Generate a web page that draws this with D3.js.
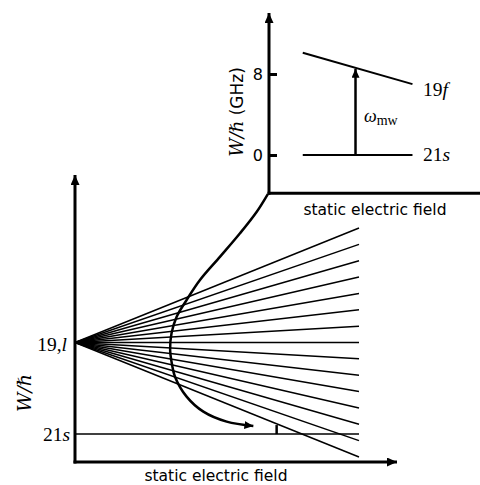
<!DOCTYPE html>
<html><head><meta charset="utf-8">
<script src="https://cdn.jsdelivr.net/npm/d3@7/dist/d3.min.js"></script>
<style>
body{margin:0;background:#fff;}
svg{display:block;}
.sans{font-family:"DejaVu Sans",sans-serif;}
.serif{font-family:"Liberation Serif","DejaVu Serif",serif;}
.dserif{font-family:"DejaVu Serif",serif;}
</style></head>
<body>
<script>
// ---- Data ----
// Main panel: Stark fan of 19,l manifold (energy at field = 1, in level-spacing units)
const fanSlopes = [7, 6, 5, 4, 3, 2, 1, 0, -1, -2, -3, -4, -5, -6, -7];
const fanFieldMax = 1.0;
const level19l = 0;          // 19,l zero-field energy
const level21s = -5.6;       // 21s energy
const mainTickValues = [level19l, level21s];
// sweep curve (field, energy)
const curveField  = [0.679, 0.640, 0.581, 0.511, 0.440, 0.393, 0.358, 0.340, 0.335, 0.342, 0.352, 0.393, 0.452, 0.534, 0.628];
const curveEnergy = [9.08, 8.00, 6.68, 5.25, 3.82, 2.60, 1.58, 0.58, -0.46, -1.38, -2.09, -3.31, -4.23, -4.84, -5.11];
const markerField = 0.71, markerTop = -5.05;

// Inset: levels in GHz
const insetTickValues = [8, 0];
const inset19fX = [1.6, 6.8], inset19fW = [10.1, 7.0];
const inset21sX = [1.6, 6.8], inset21sW = [0, 0];
const mwX = 4.1;

const W = 480, H = 485;
const svg = d3.select("body").append("svg").attr("width", W).attr("height", H);

const defs = svg.append("defs");
function arrowMarker(id, w, h) {
  defs.append("marker").attr("id", id)
    .attr("viewBox", `0 0 ${w} ${h}`).attr("refX", w).attr("refY", h/2)
    .attr("markerWidth", w).attr("markerHeight", h).attr("markerUnits", "userSpaceOnUse")
    .attr("orient", "auto")
    .append("path").attr("d", `M0,0 L${w},${h/2} L0,${h} Z`).attr("fill", "#000");
}
arrowMarker("axArrow", 10, 9);
arrowMarker("smArrow", 9, 8);

// ---- Main panel scales ----
const x = d3.scaleLinear().domain([0, 1]).range([75, 359]);
const y = d3.scaleLinear().domain([0, 1]).range([342.5, 326.15]);
const xAxisEnd = x.invert(397), yAxisTop = y.invert(175), yAxisBottom = y.invert(462);

// fan lines
svg.append("g").selectAll("line").data(fanSlopes).join("line")
  .attr("x1", x(0)).attr("y1", y(level19l))
  .attr("x2", x(fanFieldMax)).attr("y2", d => y(level19l + d * fanFieldMax))
  .attr("stroke", "#000").attr("stroke-width", 1.5);

// 21s line
svg.append("line").attr("x1", x(0)).attr("x2", x(fanFieldMax))
  .attr("y1", y(level21s)).attr("y2", y(level21s))
  .attr("stroke", "#000").attr("stroke-width", 1.5);

// small marker tick
svg.append("line").attr("x1", x(markerField)).attr("x2", x(markerField))
  .attr("y1", y(level21s)).attr("y2", y(markerTop))
  .attr("stroke", "#000").attr("stroke-width", 2.5);

// y axis
const yAx = svg.append("g").attr("transform", `translate(${x(0)},0)`)
  .call(d3.axisLeft(y).tickValues(mainTickValues).tickSize(0).tickPadding(8).tickFormat(""));
yAx.select(".domain").remove();
svg.append("line").attr("x1", x(0)).attr("x2", x(0))
  .attr("y1", y(yAxisBottom) + 1.5).attr("y2", y(yAxisTop))
  .attr("stroke", "#000").attr("stroke-width", 3).attr("marker-end", "url(#axArrow)");
// x axis
svg.append("line").attr("x1", x(0) - 1.5).attr("x2", x(xAxisEnd))
  .attr("y1", y(yAxisBottom)).attr("y2", y(yAxisBottom))
  .attr("stroke", "#000").attr("stroke-width", 3).attr("marker-end", "url(#axArrow)");

// main tick labels
const lab19 = svg.append("text").attr("class", "serif").attr("font-size", 19.5)
  .attr("x", 67).attr("y", y(level19l) + 8).attr("text-anchor", "end");
lab19.append("tspan").text("19,");
lab19.append("tspan").attr("font-style", "italic").text("l");
const lab21 = svg.append("text").attr("class", "serif").attr("font-size", 19.5)
  .attr("x", 70).attr("y", y(level21s) + 6.5).attr("text-anchor", "end");
lab21.append("tspan").text("21");
lab21.append("tspan").attr("font-style", "italic").text("s");

// main y label
svg.append("text").attr("class", "dserif").attr("font-size", 19).attr("font-style", "italic")
  .attr("transform", "translate(31,393) rotate(-90)").attr("text-anchor", "middle")
  .text("W/ℏ");
// main x label
svg.append("text").attr("class", "sans").attr("font-size", 15.5)
  .attr("x", 216).attr("y", 481).attr("text-anchor", "middle").text("static electric field");

// curve
const curvePts = curveField.map((f, i) => [x(f), y(curveEnergy[i])]);
svg.append("path").attr("d", d3.line().curve(d3.curveCatmullRom)(curvePts))
  .attr("fill", "none").attr("stroke", "#000").attr("stroke-width", 2.5)
  .attr("marker-end", "url(#smArrow)");

// ---- Inset ----
const ix = d3.scaleLinear().domain([0, 10]).range([269, 480]);
const iy = d3.scaleLinear().domain([0, 8]).range([155, 74]);
const iyTop = iy.invert(13), iyBottom = iy.invert(193.3);

const iAx = svg.append("g").attr("transform", `translate(${ix(0)},0)`)
  .call(d3.axisLeft(iy).tickValues(insetTickValues).tickSize(-8).tickPadding(6));
iAx.select(".domain").remove();
iAx.selectAll(".tick line").attr("stroke-width", 3);
iAx.selectAll(".tick text").attr("font-family", "DejaVu Sans, sans-serif").attr("font-size", 16).attr("fill", "#000");

svg.append("line").attr("x1", ix(0)).attr("x2", ix(0))
  .attr("y1", iy(iyBottom) + 1.5).attr("y2", iy(iyTop))
  .attr("stroke", "#000").attr("stroke-width", 3).attr("marker-end", "url(#axArrow)");
svg.append("line").attr("x1", ix(0) - 1.5).attr("x2", ix(10))
  .attr("y1", iy(iyBottom)).attr("y2", iy(iyBottom))
  .attr("stroke", "#000").attr("stroke-width", 3);

// levels
svg.append("line").attr("x1", ix(inset19fX[0])).attr("x2", ix(inset19fX[1]))
  .attr("y1", iy(inset19fW[0])).attr("y2", iy(inset19fW[1]))
  .attr("stroke", "#000").attr("stroke-width", 2);
svg.append("line").attr("x1", ix(inset21sX[0])).attr("x2", ix(inset21sX[1]))
  .attr("y1", iy(inset21sW[0])).attr("y2", iy(inset21sW[1]))
  .attr("stroke", "#000").attr("stroke-width", 2);
// mw arrow
const fLine = d3.scaleLinear().domain(inset19fX).range(inset19fW);
svg.append("line").attr("x1", ix(mwX)).attr("x2", ix(mwX))
  .attr("y1", iy(0)).attr("y2", iy(fLine(mwX)) + 1)
  .attr("stroke", "#000").attr("stroke-width", 2.5).attr("marker-end", "url(#smArrow)");

// inset labels
const l19f = svg.append("text").attr("class", "serif").attr("font-size", 19.5)
  .attr("x", 423).attr("y", 96);
l19f.append("tspan").text("19");
l19f.append("tspan").attr("font-style", "italic").text("f");
const l21s = svg.append("text").attr("class", "serif").attr("font-size", 19.5)
  .attr("x", 423).attr("y", 161);
l21s.append("tspan").text("21");
l21s.append("tspan").attr("font-style", "italic").text("s");
const lw = svg.append("text").attr("class", "serif").attr("font-size", 18)
  .attr("x", 364).attr("y", 122);
lw.append("tspan").attr("font-style", "italic").text("ω");
lw.append("tspan").attr("font-size", 14).attr("dy", 3).text("mw");

const iyl = svg.append("text")
  .attr("transform", "translate(243,112) rotate(-90)").attr("text-anchor", "middle");
iyl.append("tspan").style("font-family", "DejaVu Serif, serif").style("font-style", "italic").style("font-size", "18px").text("W/ℏ");
iyl.append("tspan").style("font-family", "DejaVu Sans, sans-serif").style("font-size", "17px").text("\u00a0(GHz)");

svg.append("text").attr("class", "sans").attr("font-size", 15.5)
  .attr("x", 375).attr("y", 215).attr("text-anchor", "middle").text("static electric field");
</script>
</body></html>
